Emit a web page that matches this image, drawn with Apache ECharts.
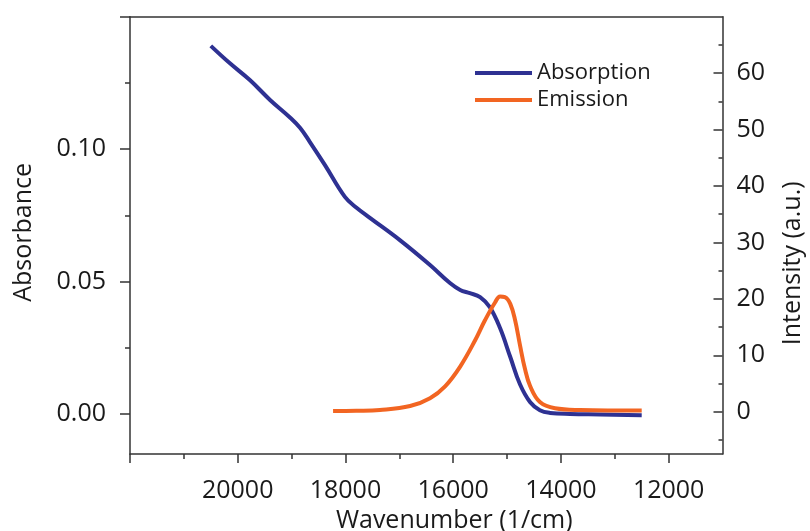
<!DOCTYPE html>
<html>
<head>
<meta charset="utf-8">
<script src="https://cdn.jsdelivr.net/npm/echarts@6/dist/echarts.min.js"></script>
<style>html,body{margin:0;padding:0;background:#fff}#c{width:810px;height:531px}</style>
</head>
<body>
<div id="c"></div>
<script>
// Wavenumber (1/cm) and absorbance of the absorption curve
var absX = [20500, 20150, 19770, 19400, 19030, 18840, 18660, 18380, 18010, 17800, 17540, 16990, 16430, 16060, 15870, 15690, 15500, 15320, 15130, 14940, 14760, 14570, 14390, 14200, 13830, 13270, 12500];
var absY = [0.139, 0.1325, 0.126, 0.1186, 0.112, 0.108, 0.1027, 0.094, 0.082, 0.078, 0.074, 0.0657, 0.0563, 0.0495, 0.0469, 0.0457, 0.0442, 0.0404, 0.0325, 0.0216, 0.0113, 0.0045, 0.0015, 0.0005, 0.0001, -0.0001, -0.0004];
// Wavenumber (1/cm) and intensity (a.u.) of the emission curve
var emiX = [18230, 17800, 17360, 16800, 16430, 16150, 15870, 15590, 15410, 15220, 15130, 15040, 14940, 14850, 14760, 14670, 14570, 14390, 14110, 13650, 12500];
var emiY = [0.1, 0.15, 0.3, 1.0, 2.4, 4.5, 8.0, 12.7, 16.2, 19.4, 20.4, 20.3, 19.1, 16.2, 11.8, 7.7, 4.5, 1.7, 0.6, 0.3, 0.2];
// tick labels
var xLabels = [20000, 18000, 16000, 14000, 12000];
var xMajorTicks = [22000, 20000, 18000, 16000, 14000, 12000];
var xMinorTicks = [21000, 19000, 17000, 15000, 13000];
var yLeftLabels = [0, 0.05, 0.10];
var yLeftMajorTicks = [0, 0.05, 0.10, 0.15];
var yLeftMinorTicks = [0.025, 0.075, 0.125];
var yRightLabels = [0, 10, 20, 30, 40, 50, 60];
var yRightMinorTicks = [-5, 5, 15, 25, 35, 45, 55, 65];

function zip(a, b) { return a.map(function (v, i) { return [v, b[i]]; }); }

var FONT = "'Open Sans', 'Noto Sans', sans-serif";
var TXT = { color: '#1a1a1a', fontFamily: FONT, fontSize: 25 };
var LINE = { show: true, onZero: false, lineStyle: { color: '#333', width: 1.5 } };
var TICK = { color: '#333', width: 1.5 };

var chart = echarts.init(document.getElementById('c'), null, { renderer: 'canvas' });
chart.setOption({
  animation: false,
  backgroundColor: '#fff',
  grid: { left: 130, right: 87.5, top: 16.7, bottom: 77, containLabel: false, outerBoundsMode: 'none' },
  legend: {
    orient: 'vertical', left: 475, top: 62, itemGap: 5, padding: 0,
    icon: 'rect', itemWidth: 57, itemHeight: 4,
    textStyle: { color: '#1a1a1a', fontFamily: FONT, fontSize: 22, padding: [0, 0, 0, 0] },
    data: ['Absorption', 'Emission']
  },
  xAxis: [
    {
      type: 'value', min: 11000, max: 22000, inverse: true, position: 'bottom',
      axisLine: LINE, splitLine: { show: false },
      axisTick: { show: true, inside: false, length: 9, customValues: xMajorTicks, lineStyle: TICK },
      axisLabel: Object.assign({ margin: 24, customValues: xLabels, formatter: function (v) { return String(v); } }, TXT),
      name: 'Wavenumber (1/cm)', nameLocation: 'middle', nameGap: 53,
      nameTextStyle: Object.assign({ padding: [0, 0, 0, 56] }, TXT)
    },
    {
      type: 'value', min: 11000, max: 22000, inverse: true, position: 'bottom',
      axisLine: { show: false, onZero: false }, splitLine: { show: false },
      axisTick: { show: true, inside: false, length: 5, customValues: xMinorTicks, lineStyle: TICK },
      axisLabel: { show: false }
    },
    {
      type: 'value', min: 11000, max: 22000, inverse: true, position: 'top',
      axisLine: LINE, splitLine: { show: false },
      axisTick: { show: false }, axisLabel: { show: false }
    }
  ],
  yAxis: [
    {
      type: 'value', min: -0.015, max: 0.15, position: 'left',
      axisLine: LINE, splitLine: { show: false },
      axisTick: { show: true, inside: false, length: 10, customValues: yLeftMajorTicks, lineStyle: TICK },
      axisLabel: Object.assign({ margin: 24, customValues: yLeftLabels, formatter: function (v) { return v.toFixed(2); } }, TXT),
      name: 'Absorbance', nameLocation: 'middle', nameGap: 94, nameRotate: 90,
      nameTextStyle: Object.assign({ padding: [0, 0, 0, 6] }, TXT)
    },
    {
      type: 'value', min: -7.5, max: 70, position: 'right',
      axisLine: LINE, splitLine: { show: false },
      axisTick: { show: true, inside: true, length: 9, customValues: yRightLabels, lineStyle: TICK },
      axisLabel: Object.assign({ margin: 14, customValues: yRightLabels }, TXT),
      name: 'Intensity (a.u.)', nameLocation: 'middle', nameGap: 58, nameRotate: 90,
      nameTextStyle: Object.assign({ padding: [0, 56, 0, 0] }, TXT)
    },
    {
      type: 'value', min: -0.015, max: 0.15, position: 'left',
      axisLine: { show: false, onZero: false }, splitLine: { show: false },
      axisTick: { show: true, inside: false, length: 5, customValues: yLeftMinorTicks, lineStyle: TICK },
      axisLabel: { show: false }
    },
    {
      type: 'value', min: -7.5, max: 70, position: 'right',
      axisLine: { show: false, onZero: false }, splitLine: { show: false },
      axisTick: { show: true, inside: true, length: 4, customValues: yRightMinorTicks, lineStyle: TICK },
      axisLabel: { show: false }
    }
  ],
  series: [
    {
      name: 'Absorption', type: 'line', xAxisIndex: 0, yAxisIndex: 0,
      data: zip(absX, absY), smooth: 0.4, showSymbol: false, symbol: 'none',
      itemStyle: { color: '#2e3192' }, lineStyle: { color: '#2e3192', width: 4 }, z: 3
    },
    {
      name: 'Emission', type: 'line', xAxisIndex: 0, yAxisIndex: 1,
      data: zip(emiX, emiY), smooth: 0.4, showSymbol: false, symbol: 'none',
      itemStyle: { color: '#f26522' }, lineStyle: { color: '#f26522', width: 4 }, z: 4
    }
  ]
});
</script>
</body>
</html>
